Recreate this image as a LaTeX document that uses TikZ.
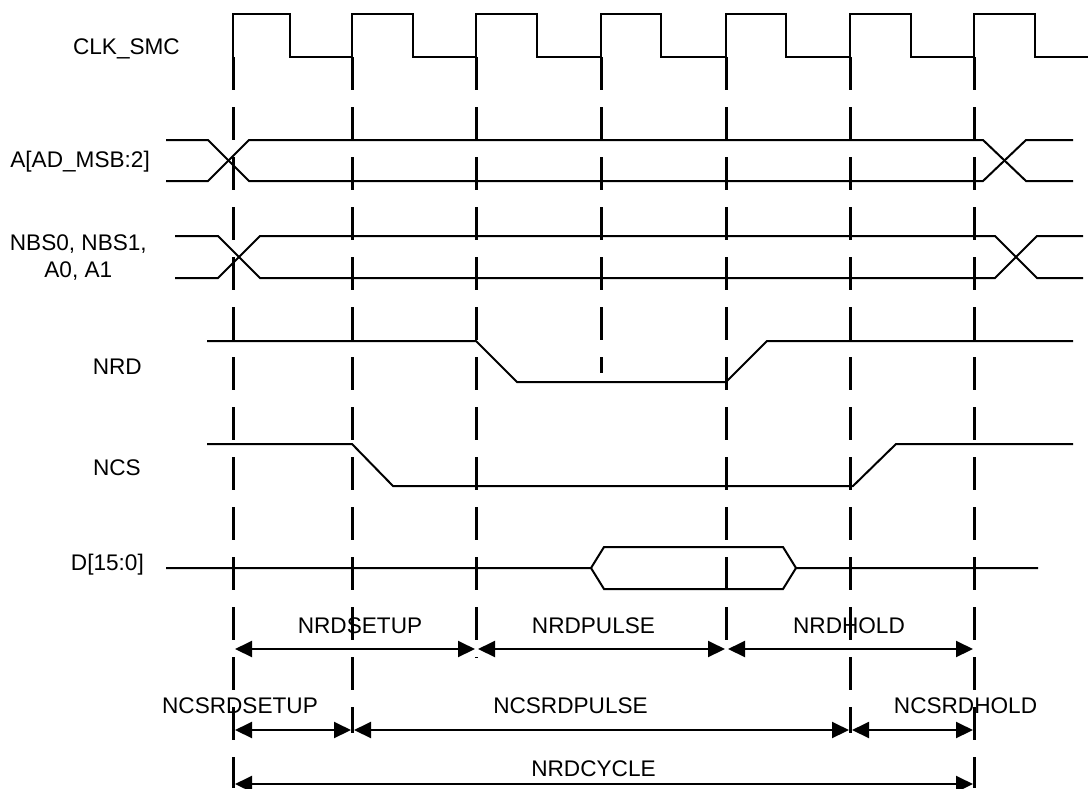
\documentclass[tikz,border=0pt]{standalone}
\usepackage{fontspec}
\setmainfont{Liberation Sans}
\usetikzlibrary{arrows.meta}
\begin{document}
\begin{tikzpicture}[x=1pt, y=-1pt,
  every node/.style={font=\fontsize{22.6}{27}\selectfont, inner sep=0pt},
  sig/.style={line width=2pt},
  edgeline/.style={line width=3pt, dash pattern=on 33pt off 17pt},
  dim/.style={line width=2pt, shorten <=2pt, shorten >=1pt,
    {Triangle[length=17pt,width=16pt]}-{Triangle[length=17pt,width=16pt]}}]
\useasboundingbox (0,0) rectangle (1091,788);
% clock edges and rows of the arrows
\foreach \n/\x in {a/233, b/352, c/476, d/601, e/726, f/850, g/974}
	\coordinate (\n) at (\x,57);
\coordinate (r1) at (0,649);
\coordinate (r2) at (0,730);
\coordinate (r3) at (0,784);
\foreach \n/\l in {a/731, b/676, c/601, d/316, e/595, f/676, g/731}
	\draw[edgeline] (\n) -- ++(0,\l);
% signal names
\node[anchor=base east] (clk) at (180,54) {CLK\_SMC};
\node[anchor=base east] (addr) at (150,167) {A[AD\_MSB:2]};
\node[anchor=north east, align=center] (nbs) at (147,235) {NBS0, NBS1,\\A0, A1};
\node[anchor=base east] (nrd) at (142,374) {NRD};
\node[anchor=base east] (ncs) at (141,475) {NCS};
\node[anchor=base east] (data) at (144,570) {D[15:0]};
% waveforms
\draw[sig] (233,57) \foreach \r/\f in {233/290, 352/413, 476/537, 601/661, 726/786, 850/911, 974/1035}
	{ -- (\r,57) -- (\r,14) -- (\f,14) -- (\f,57) } -- (1088,57);
\draw[sig] (166,140) -- (208,140) -- (249,181) -- (983,181) -- (1026,140) -- (1073,140);
\draw[sig] (166,181) -- (208,181) -- (249,140) -- (983,140) -- (1026,181) -- (1073,181);
\draw[sig] (175,236) -- (218,236) -- (260,278) -- (995,278) -- (1037,236) -- (1083,236);
\draw[sig] (175,278) -- (218,278) -- (260,236) -- (995,236) -- (1037,278) -- (1083,278);
\draw[sig] (207,341) -- (476,341) -- (517,382) -- (726,382) -- (767,341) -- (1073,341);
\draw[sig] (207,444) -- (352,444) -- (393,486) -- (853,486) -- (896,444) -- (1073,444);
\draw[sig] (166,568) -- (591,568) -- (604,547) -- (783,547) -- (796,568) -- (1038,568);
\draw[sig] (591,568) -- (604,589) -- (783,589) -- (796,568);
% timing parameters
\draw[dim] (a |- r1) -- (c |- r1);
\draw[dim] (c |- r1) -- (e |- r1);
\draw[dim] (e |- r1) -- (g |- r1);
\draw[dim] (a |- r2) -- (b |- r2);
\draw[dim] (b |- r2) -- (f |- r2);
\draw[dim] (f |- r2) -- (g |- r2);
\draw[dim] (a |- r3) -- (g |- r3);
\node[anchor=base] (setup) at (360,633) {NRDSETUP};
\node[anchor=base] (pulse) at (593.5,633) {NRDPULSE};
\node[anchor=base] (hold) at (849,633) {NRDHOLD};
\node[anchor=base] (cssetup) at (240,713) {NCSRDSETUP};
\node[anchor=base] (cspulse) at (570.5,713) {NCSRDPULSE};
\node[anchor=base] (cshold) at (965.5,713) {NCSRDHOLD};
\node[anchor=base] (cycle) at (593.5,776) {NRDCYCLE};
\end{tikzpicture}
\end{document}
